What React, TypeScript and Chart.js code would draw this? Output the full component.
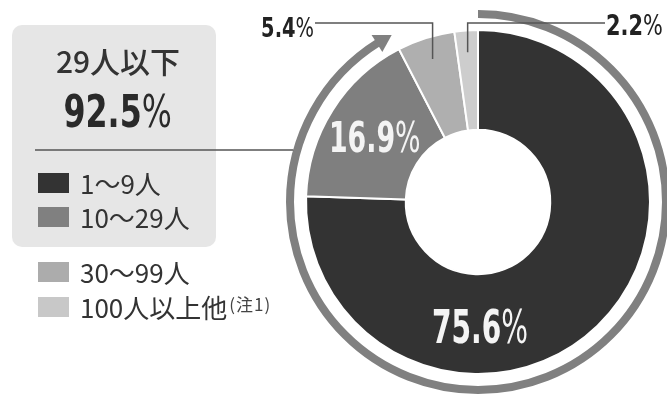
import React, { useEffect, useRef } from 'react';
import { Chart, registerables } from 'chart.js';

Chart.register(...registerables);

// ---- data ----
const categories = ['1〜9人', '10〜29人', '30〜99人', '100人以上他'];
const shares = [75.6, 16.9, 5.4, 2.2];
const groupLabel = '29人以下';
const groupShare = 92.5;
const noteLabel = '(注1)';

// ---- styles ----
const sliceColors = ['#333333', '#7f7f7f', '#afafaf', '#cdcdcd'];
const legendColors = ['#333333', '#808080', '#acacac', '#c8c8c8'];
const NUM_FONT = '"DejaVu Sans Condensed", "DejaVu Sans", sans-serif';
const JP_FONT = '"Noto Sans CJK JP", "Noto Sans", sans-serif';

function drawPct(
  ctx: CanvasRenderingContext2D,
  value: number,
  x: number,
  baseline: number,
  size: number,
  sx: number,
  align: string,
  color: string
) {
  const num = value.toFixed(1);
  ctx.font = `bold ${size}px ${NUM_FONT}`;
  const w1 = ctx.measureText(num).width;
  ctx.font = `${size}px ${NUM_FONT}`;
  const w2 = ctx.measureText('%').width;
  const total = (w1 + w2) * sx;
  const left = align === 'center' ? x - total / 2 : align === 'right' ? x - total : x;
  ctx.save();
  ctx.translate(left, baseline);
  ctx.scale(sx, 1);
  ctx.fillStyle = color;
  ctx.textAlign = 'left';
  ctx.textBaseline = 'alphabetic';
  ctx.font = `bold ${size}px ${NUM_FONT}`;
  ctx.fillText(num, 0, 0);
  ctx.font = `${size}px ${NUM_FONT}`;
  ctx.fillText('%', w1, 0);
  ctx.restore();
}

const overlayPlugin = {
  id: 'overlay',
  afterDatasetsDraw(chart: any) {
    const ctx: CanvasRenderingContext2D = chart.ctx;
    const arcs = chart.getDatasetMeta(0).data.map((a: any) =>
      a.getProps(['x', 'y', 'startAngle', 'endAngle', 'outerRadius', 'innerRadius'], true)
    );
    const cx = arcs[0].x;
    const cy = arcs[0].y;
    const R = arcs[0].outerRadius;
    const r0 = arcs[0].innerRadius;
    ctx.save();

    // outer arrow ring covering the first two groups
    const ringR = R + 16;
    const ringW = 8;
    const aStart = arcs[0].startAngle;
    const aEnd = arcs[1].endAngle;
    const headLen = 17;
    const headHalf = 10;
    const aBase = aEnd - headLen / ringR;
    ctx.strokeStyle = '#808080';
    ctx.lineWidth = ringW;
    ctx.lineCap = 'butt';
    ctx.beginPath();
    ctx.arc(cx, cy, ringR, aStart, aBase + 0.01);
    ctx.stroke();
    const bx = cx + ringR * Math.cos(aBase);
    const by = cy + ringR * Math.sin(aBase);
    const nx = Math.cos(aBase);
    const ny = Math.sin(aBase);
    const tx = cx + ringR * Math.cos(aEnd);
    const ty = cy + ringR * Math.sin(aEnd);
    ctx.fillStyle = '#808080';
    ctx.beginPath();
    ctx.moveTo(bx + nx * headHalf, by + ny * headHalf);
    ctx.lineTo(tx, ty);
    ctx.lineTo(bx - nx * headHalf, by - ny * headHalf);
    ctx.closePath();
    ctx.fill();

    // connector line from the group box to the ring
    const lineY = 150;
    const dy = lineY - cy;
    const ringX = cx - Math.sqrt(ringR * ringR - dy * dy) - ringW / 2;
    ctx.strokeStyle = '#555555';
    ctx.lineWidth = 1.5;
    ctx.beginPath();
    ctx.moveTo(35, lineY);
    ctx.lineTo(ringX, lineY);
    ctx.stroke();

    // leader lines for the two small slices
    const leadY = 23;
    const anchorR = 150;
    const mid = (a: any) => (a.startAngle + a.endAngle) / 2;
    const p2 = { x: cx + anchorR * Math.cos(mid(arcs[2])), y: cy + anchorR * Math.sin(mid(arcs[2])) };
    const p3 = { x: cx + anchorR * Math.cos(mid(arcs[3])), y: cy + anchorR * Math.sin(mid(arcs[3])) };
    ctx.strokeStyle = '#555555';
    ctx.lineWidth = 1.5;
    ctx.beginPath();
    ctx.moveTo(p2.x, p2.y);
    ctx.lineTo(p2.x, leadY);
    ctx.lineTo(315, leadY);
    ctx.moveTo(p3.x, p3.y);
    ctx.lineTo(p3.x, leadY);
    ctx.lineTo(605, leadY);
    ctx.stroke();

    // labels
    const labelR = (R + r0) / 2;
    const m1 = mid(arcs[1]);
    const s1 = 42;
    drawPct(ctx, shares[1], cx + labelR * Math.cos(m1), cy + labelR * Math.sin(m1) + s1 * 0.37, s1, 0.71, 'center', '#f4f4f4');
    const s0 = 46;
    drawPct(ctx, shares[0], cx + 2, cy + labelR + s0 * 0.4, s0, 0.68, 'center', '#f4f4f4');
    drawPct(ctx, shares[2], 314, 37, 27, 0.8, 'right', '#222222');
    drawPct(ctx, shares[3], 606, 35, 29, 0.8, 'left', '#222222');

    ctx.restore();
  },
};

export default function App() {
  const canvasRef = useRef<HTMLCanvasElement | null>(null);

  useEffect(() => {
    const canvas = canvasRef.current;
    if (!canvas) return;
    const chart = new Chart(canvas, {
      type: 'doughnut',
      data: {
        labels: categories,
        datasets: [
          {
            data: shares,
            backgroundColor: sliceColors,
            borderColor: '#ffffff',
            borderWidth: 2,
            hoverOffset: 0,
          },
        ],
      },
      options: {
        responsive: false,
        animation: false,
        devicePixelRatio: 1,
        radius: 172,
        cutout: '42%',
        events: [],
        layout: { padding: { left: 306, right: 17, top: 30, bottom: 28 } },
        plugins: {
          legend: { display: false },
          tooltip: { enabled: false },
        },
      } as any,
      plugins: [overlayPlugin],
    });
    return () => chart.destroy();
  }, []);

  return (
    <div
      style={{
        position: 'fixed',
        left: 0,
        top: 0,
        width: 667,
        height: 402,
        background: '#ffffff',
        overflow: 'hidden',
      }}
    >
      <div
        style={{
          position: 'absolute',
          left: 12,
          top: 25,
          width: 204,
          height: 222,
          borderRadius: 10,
          background: '#e6e6e6',
        }}
      />
      <canvas
        ref={canvasRef}
        width={667}
        height={402}
        style={{ position: 'absolute', left: 0, top: 0, width: 667, height: 402 }}
      />
      <div
        style={{
          position: 'absolute',
          left: 20,
          top: 45,
          width: 196,
          textAlign: 'center',
          font: `500 30px/30px ${JP_FONT}`,
          color: '#333333',
          whiteSpace: 'nowrap',
        }}
      >
        {groupLabel}
      </div>
      <div
        style={{
          position: 'absolute',
          left: 20,
          top: 90,
          width: 196,
          textAlign: 'center',
          whiteSpace: 'nowrap',
        }}
      >
        <div
          style={{
            display: 'inline-block',
            transform: 'scaleX(0.8)',
            transformOrigin: 'center',
            fontFamily: NUM_FONT,
            fontSize: 44,
            lineHeight: '44px',
            color: '#2a2a2a',
          }}
        >
          <span style={{ fontWeight: 'bold' }}>{groupShare.toFixed(1)}</span>
          <span style={{ fontWeight: 'normal' }}>%</span>
        </div>
      </div>
      {categories.map((c, i) => {
        const top = i < 2 ? 173 + 34 * i : 262 + 35 * (i - 2);
        return (
          <div key={c}>
            <div
              style={{
                position: 'absolute',
                left: 38,
                top,
                width: 31,
                height: 20,
                background: legendColors[i],
              }}
            />
            <div
              style={{
                position: 'absolute',
                left: 80,
                top,
                height: 20,
                font: `400 26px/20px ${JP_FONT}`,
                color: '#333333',
                whiteSpace: 'nowrap',
              }}
            >
              {c}
              {i === 3 ? (
                <span
                  style={{
                    fontSize: 17,
                    verticalAlign: 'top',
                    lineHeight: '17px',
                    marginLeft: 2,
                    letterSpacing: 1,
                    color: '#444444',
                    position: 'relative',
                    top: -2,
                  }}
                >
                  {noteLabel}
                </span>
              ) : null}
            </div>
          </div>
        );
      })}
    </div>
  );
}
